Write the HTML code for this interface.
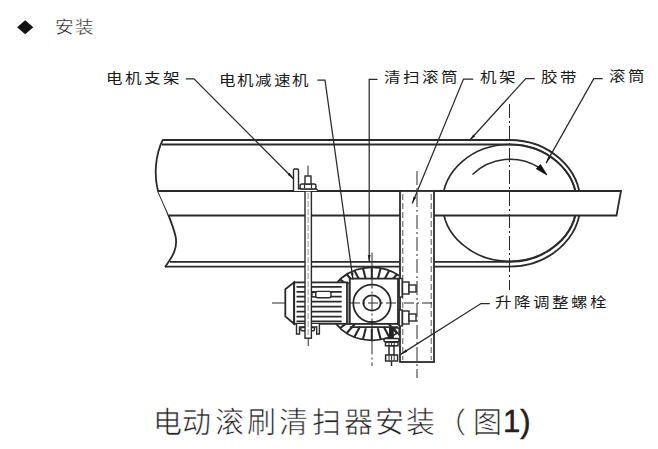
<!DOCTYPE html>
<html lang="zh-CN"><head><meta charset="utf-8">
<style>
html,body{margin:0;padding:0;background:#fff;width:658px;height:449px;overflow:hidden}
svg{position:absolute;left:0;top:0}
.t{position:absolute;font-family:"Liberation Sans",sans-serif;color:#222;white-space:nowrap;line-height:1}
.lb{font-size:14px;letter-spacing:2.1px;color:#1a1a1a;transform:scaleX(1.18);transform-origin:0 0}
.cap{font-size:29px;color:#222;-webkit-text-stroke:0.6px #fff}
</style></head><body>
<svg width="658" height="449" viewBox="0 0 658 449">
<defs>
<clipPath id="gclip"><rect x="300" y="250" width="99" height="120"/></clipPath>
</defs>
<g fill="none" stroke="#2a2a2a" stroke-linecap="butt">
<!-- diamond -->
<path d="M25.2 20.2 L33.3 27.2 L25.2 34.2 L17.1 27.2 Z" fill="#111" stroke="none"/>

<!-- roller ellipse -->
<ellipse cx="509.5" cy="202.9" rx="67" ry="58.4" stroke-width="1.7"/>
<!-- belt -->
<path d="M163 140 H509.5 A71 63.3 0 0 1 509.5 266.6 H165" stroke-width="1.8"/>
<path d="M162 144.5 H509.5 A67 58.4 0 0 1 509.5 261.8 H170" stroke-width="1.8"/>
<!-- break curve -->
<path d="M163 139.5 C155 155 154 176 158 191 C164 204 172 222 175.5 236 C178 248 173 256 165 267" stroke-width="1.8"/>

<!-- frame member -->
<path d="M158 191 H621 L616.5 215.5 H169" fill="#fff" stroke="none"/>
<path d="M158 191 H621 L616.5 215.5 H434 M400 215.5 H168.5" stroke-width="1.8"/>

<!-- roller arrow -->
<path d="M472.5 174.5 A54 54 0 0 1 539 167.5" stroke-width="1.5"/>
<path d="M547 175 L536.3 168.8 L540.5 164.5 Z" fill="#111" stroke="#111" stroke-width="0.8"/>

<!-- roller center line -->
<path d="M509.5 104 V290" stroke-width="1" stroke-dasharray="14 3 2 3"/>

<!-- pillar -->
<rect x="400" y="191" width="34" height="171" fill="#fff" stroke-width="1.8"/>
<path d="M402.8 194 V360 M431.2 194 V360" stroke-width="1" stroke-dasharray="6 3" stroke="#555"/>
<path d="M417 171 V378" stroke-width="1" stroke-dasharray="14 3 2 3"/>

<!-- gear -->
<g clip-path="url(#gclip)">
<ellipse cx="371.8" cy="303.8" rx="42.8" ry="36.5" fill="#fff" stroke-width="1.8"/>

<path d="M371.8 328.8L371.8 340.3M365.8 328.3L362.9 339.5M360.0 326.6L354.4 337.1M354.8 324.0L346.6 333.3M350.2 320.5L340.0 328.2M346.7 316.3L334.7 322.1M344.2 311.5L331.1 315.1M343.0 306.4L329.2 307.6M343.0 301.2L329.2 300.0M344.2 296.1L331.1 292.5M346.7 291.3L334.7 285.6M350.2 287.1L340.0 279.4M354.8 283.6L346.6 274.3M360.0 281.0L354.4 270.5M365.8 279.3L362.9 268.1M371.8 278.8L371.8 267.3M377.8 279.3L380.7 268.1M383.6 281.0L389.2 270.5M388.8 283.6L397.0 274.3M393.4 287.1L403.6 279.4M396.9 291.3L408.9 285.6M399.4 296.1L412.5 292.5M400.6 301.2L414.4 300.0M400.6 306.4L414.4 307.6M399.4 311.5L412.5 315.1M396.9 316.3L408.9 322.1M393.4 320.5L403.6 328.2M388.8 324.0L397.0 333.3M383.6 326.6L389.2 337.1M377.8 328.3L380.7 339.5" stroke-width="2.1"/>
</g>

<!-- motor end cap & body -->
<path d="M294 282.4 L285.3 289.3 V316.4 L294 323.8 Z" fill="#fff" stroke-width="1.8"/>
<rect x="294.2" y="282.4" width="53" height="41.4" fill="#fff" stroke-width="1.8"/>
<path d="M296.5 286.8H341.7M296.5 291.8H341.7M296.5 296.7H341.7M296.5 301.6H341.7M296.5 306.6H341.7M296.5 311.6H341.7M296.5 316.6H341.7M296.5 321.3H341.7" stroke-width="1.7"/>
<rect x="315.6" y="291.4" width="15.4" height="6.4" rx="2" fill="#fff" stroke-width="1.4"/>
<rect x="312" y="292.5" width="3.6" height="4.2" fill="#fff" stroke-width="1.2"/>
<rect x="347" y="283" width="3" height="41" fill="#999" stroke-width="1.5"/>
<!-- motor foot -->
<path d="M296.5 324 V334 H299.5 V327 H316.7 V334 H319.4 V324" fill="#fff" stroke-width="1.4"/>
<rect x="300.7" y="327.5" width="13.9" height="3.2" rx="1.5" fill="#fff" stroke-width="1.4"/>

<!-- reducer housing -->
<rect x="349.8" y="278.6" width="48.2" height="45.3" fill="#fff" stroke-width="1.8"/>
<path d="M349.8 327.2 H398" stroke-width="1.8"/>
<circle cx="372" cy="303.3" r="18.7" stroke-width="1.8"/>
<ellipse cx="372" cy="303" rx="8.7" ry="7.6" stroke-width="1.9"/>

<!-- right bolts -->
<rect x="399.2" y="278.5" width="3" height="18.5" fill="#fff" stroke-width="1.4"/>
<rect x="399.2" y="310" width="3" height="16" fill="#fff" stroke-width="1.4"/>
<rect x="402.5" y="282" width="6.5" height="12" fill="#fff" stroke-width="1.4"/>
<rect x="409" y="285" width="7" height="7" fill="#fff" stroke-width="1.4"/>
<rect x="402.5" y="311" width="6.5" height="13" fill="#fff" stroke-width="1.4"/>
<rect x="409" y="314" width="7" height="7" fill="#fff" stroke-width="1.4"/>

<!-- adjust bolt -->
<rect x="389" y="328" width="4.8" height="10.5" fill="#222" stroke="none"/>
<path d="M394 328 L399 328 L399 335 Z" fill="#fff" stroke-width="1.3"/>
<rect x="384" y="338.6" width="15" height="3.2" rx="1.2" fill="#fff" stroke-width="1.5"/>
<rect x="385.5" y="342.2" width="12.5" height="3.6" fill="#fff" stroke-width="1.5"/>
<path d="M389 342.5 V345.5 M391.6 342.5 V345.5 M394.2 342.5 V345.5" stroke-width="1"/>
<rect x="389" y="346" width="5" height="9" fill="#fff" stroke-width="1.5"/>
<rect x="385.6" y="355" width="12" height="6" fill="#fff" stroke-width="1.5"/>
<path d="M389 355.5 V360.5 M391.6 355.5 V360.5 M394.2 355.5 V360.5" stroke-width="1"/>
<path d="M391.5 361 V366" stroke-width="1.5"/>

<!-- rod -->
<rect x="305" y="191" width="6.4" height="147.2" fill="#fff" stroke-width="1.4"/>
<path d="M308.2 193 V336" stroke="#aaa" stroke-width="1.2" stroke-dasharray="6 2"/>
<path d="M308.2 338 V346" stroke-width="1"/>

<!-- bracket + nut on top -->
<path d="M293.5 191 V170 Q293.5 169 294.5 169 H297.5 Q298.5 169 298.5 170 V188.7 H316 L318.5 191" fill="#fff" stroke-width="1.4"/>
<rect x="300" y="184" width="16" height="5" rx="2" fill="#fff" stroke-width="1.4"/>
<path d="M304.5 184.5 V188.5 M311.5 184.5 V188.5" stroke-width="1.2"/>
<rect x="305" y="176" width="6" height="8" fill="#fff" stroke-width="1.4"/>
<path d="M308 165.6 V176" stroke-width="1"/>

<!-- center lines -->
<path d="M272 303 H285" stroke-width="1"/>
<path d="M350 303 H434" stroke-width="1" stroke-dasharray="10 3 2 3"/>
<path d="M372 252.5 V366" stroke-width="1" stroke-dasharray="14 3 2 3"/>

<!-- leaders -->
<g stroke-width="1.25">
<path d="M185.8 78.8 H194 L293.5 178.7"/>
<path d="M317.4 80.2 H325 L353 279.5"/>
<path d="M377.5 79.3 H369.2 V262"/>
<path d="M473.3 79 H463.5 L412.2 203.4"/>
<path d="M534.7 78.6 H525.8 L469.5 140.5"/>
<path d="M602.7 78.6 H593.8 L546.1 163.1"/>
<path d="M489.8 303.5 H481 L400.6 354.4"/>
</g>
<path d="M293.5 178.7L287.6 174.7L289.5 172.8ZM353.0 279.5L350.6 272.8L353.4 272.4ZM369.2 262.0L367.8 255.0L370.6 255.0ZM412.2 203.4L413.6 196.4L416.2 197.5ZM469.5 140.5L473.2 134.4L475.2 136.3ZM546.1 163.1L548.3 156.3L550.8 157.7ZM400.6 354.4L405.8 349.5L407.3 351.8Z" fill="#1e1e1e" stroke="none"/>
</g>
</g>
</svg>
<div class="t" id="az" style="left:55px;top:19px;font-size:17px;letter-spacing:1px;transform:scaleX(1.1);transform-origin:0 0;-webkit-text-stroke:0.35px #fff">安装</div>
<div class="t lb" id="l1" style="left:105.5px;top:71px">电机支架</div>
<div class="t lb" id="l2" style="left:218.5px;top:73px;letter-spacing:1.4px">电机减速机</div>
<div class="t lb" id="l3" style="left:384px;top:69.5px">清扫滚筒</div>
<div class="t lb" id="l4" style="left:480px;top:69.5px">机架</div>
<div class="t lb" id="l5" style="left:541px;top:69.5px">胶带</div>
<div class="t lb" id="l6" style="left:609px;top:69px">滚筒</div>
<div class="t lb" id="l7" style="left:495px;top:295px">升降调整螺栓</div>
<div class="t cap" style="left:152.5px;top:409px">电</div>
<div class="t cap" style="left:182.0px;top:409px">动</div>
<div class="t cap" style="left:215.0px;top:409px">滚</div>
<div class="t cap" style="left:247.0px;top:409px">刷</div>
<div class="t cap" style="left:279.0px;top:409px">清</div>
<div class="t cap" style="left:311.8px;top:409px">扫</div>
<div class="t cap" style="left:343.7px;top:409px">器</div>
<div class="t cap" style="left:374.8px;top:409px">安</div>
<div class="t cap" style="left:406.4px;top:409px">装</div>
<div class="t cap" style="left:437px;top:409px">（</div>
<div class="t cap" style="left:473.3px;top:409px">图</div>
<div class="t" style="left:503px;top:406px;font-size:31px;color:#222;-webkit-text-stroke:0.5px #222">1)</div>
</body></html>
